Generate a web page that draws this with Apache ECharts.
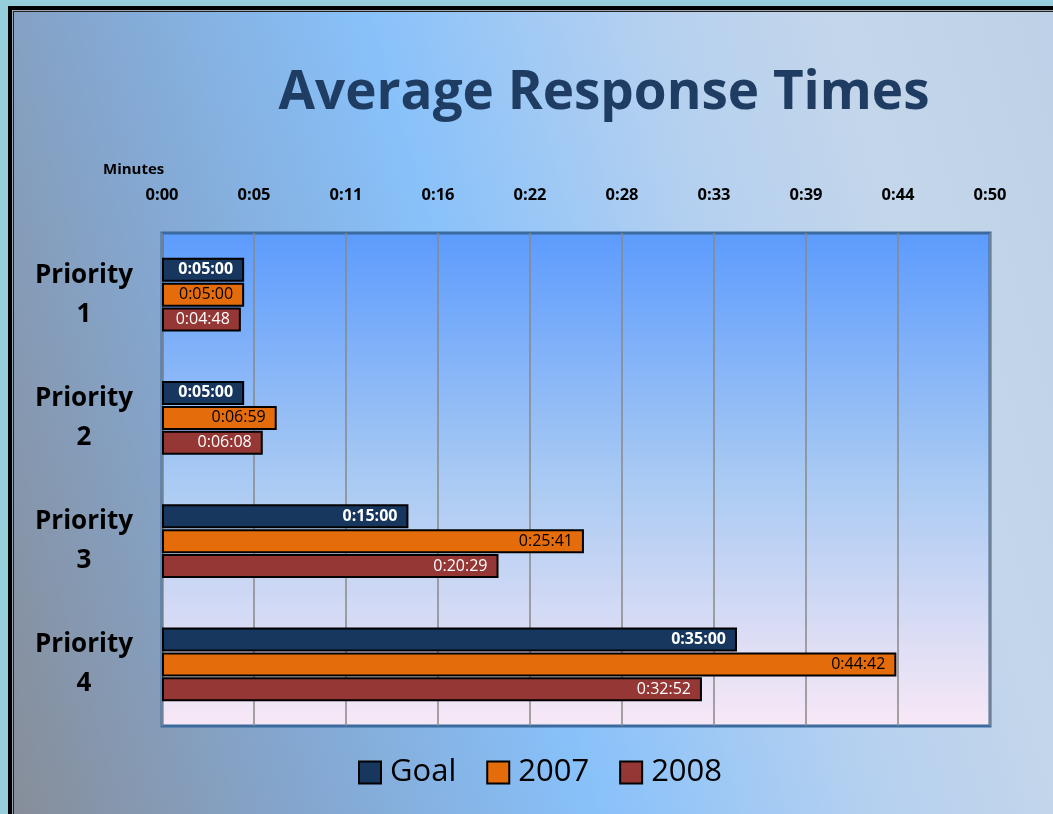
<!DOCTYPE html>
<html lang="en">
<head>
    <meta charset="UTF-8">
    <title>Average Response Times</title>
    <script src="https://cdn.jsdelivr.net/npm/echarts@6/dist/echarts.min.js"></script>
    <style>
        html, body {
            margin: 0;
            padding: 0;
            width: 1053px;
            height: 814px;
            overflow: hidden;
            background: #96cfdb;
        }
        #frame {
            position: absolute;
            left: 8px;
            top: 6px;
            width: 1100px;
            height: 900px;
            border: 4px solid #000;
            box-shadow: inset 0 0 0 1px #9aa6b4, inset 0 0 0 2px #222;
            background: linear-gradient(74deg, #878b94 0%, #84a8d2 25%, #88c1fa 45%, #b4d0f0 65%, #c4d6ea 80%, #bccfe6 100%);
        }
        #main {
            position: absolute;
            left: 0;
            top: 0;
            width: 1053px;
            height: 814px;
        }
    </style>
</head>
<body>
    <div id="frame"></div>
    <div id="main"></div>
<script type="text/javascript">
    // data (seconds)
    var categories = ['Priority\n1', 'Priority\n2', 'Priority\n3', 'Priority\n4'];
    var goal = [300, 300, 900, 2100];
    var y2007 = [300, 419, 1541, 2682];
    var y2008 = [288, 368, 1229, 1972];
    var tickLabels = ['0:00', '0:05', '0:11', '0:16', '0:22', '0:28', '0:33', '0:39', '0:44', '0:50'];

    // axis max 0:50:24, 9 steps of 0:05:36
    var step = 336;
    var axisMax = step * 9;

    function fmt(sec) {
        var h = Math.floor(sec / 3600);
        var m = Math.floor((sec % 3600) / 60);
        var s = sec % 60;
        return h + ':' + (m < 10 ? '0' : '') + m + ':' + (s < 10 ? '0' : '') + s;
    }

    function barSeries(name, data, color, labelColor, bold) {
        return {
            name: name,
            type: 'bar',
            data: data,
            barWidth: 24,
            barGap: '4%',
            itemStyle: { color: color, borderColor: '#000', borderWidth: 2 },
            label: {
                show: true,
                position: 'insideRight',
                distance: 11,
                color: labelColor,
                fontSize: 16,
                fontWeight: bold ? 'bold' : 'normal',
                fontFamily: 'Open Sans',
                formatter: function (p) { return fmt(p.value); }
            }
        };
    }

    var chart = echarts.init(document.getElementById('main'));
    chart.setOption({
        animation: false,
        title: {
            text: 'Average Response Times',
            left: 599,
            top: 62,
            textAlign: 'center',
            textStyle: { fontSize: 53, fontWeight: 'bold', color: '#1f3d63', fontFamily: 'Open Sans' }
        },
        legend: {
            bottom: 21,
            left: 353,
            itemWidth: 22,
            itemHeight: 22,
            itemGap: 30,
            icon: 'rect',
            itemStyle: { borderColor: '#000', borderWidth: 2 },
            textStyle: { fontSize: 31, color: '#000', fontFamily: 'Open Sans', padding: [0, 0, 0, 4] },
            data: ['Goal', '2007', '2008']
        },
        graphic: [{
            type: 'text',
            left: 103,
            top: 162,
            style: { text: 'Minutes', fontSize: 15, fontWeight: 'bold', fill: '#000', fontFamily: 'Open Sans' }
        }],
        grid: {
            left: 162,
            right: 63,
            top: 233,
            bottom: 88,
            show: true,
            borderColor: '#3b6a9e',
            borderWidth: 3,
            backgroundColor: new echarts.graphic.LinearGradient(0, 0, 0, 1, [
                { offset: 0, color: '#5c9bfd' },
                { offset: 0.5, color: '#a9caf3' },
                { offset: 1, color: '#f8e8f6' }
            ])
        },
        xAxis: {
            type: 'value',
            position: 'top',
            min: 0,
            max: axisMax,
            interval: step,
            axisLine: { show: false },
            axisTick: { show: false },
            axisLabel: {
                margin: 29,
                fontSize: 16.5,
                fontWeight: 'bold',
                color: '#000',
                fontFamily: 'Open Sans',
                formatter: function (v) { return tickLabels[Math.round(v / step)]; }
            },
            splitLine: { show: true, lineStyle: { color: '#888', width: 1.5 } }
        },
        yAxis: {
            type: 'category',
            inverse: true,
            data: categories,
            axisLine: { show: false },
            axisTick: { show: false },
            axisLabel: {
                margin: 78,
                align: 'center',
                fontSize: 26,
                lineHeight: 39,
                padding: [6, 0, 0, 0],
                fontWeight: 'bold',
                color: '#000',
                fontFamily: 'Open Sans'
            }
        },
        series: [
            barSeries('Goal', goal, '#17375e', '#fff', true),
            barSeries('2007', y2007, '#e46c0a', '#000', false),
            barSeries('2008', y2008, '#953735', '#fff', false)
        ]
    });
</script>
</body>
</html>
